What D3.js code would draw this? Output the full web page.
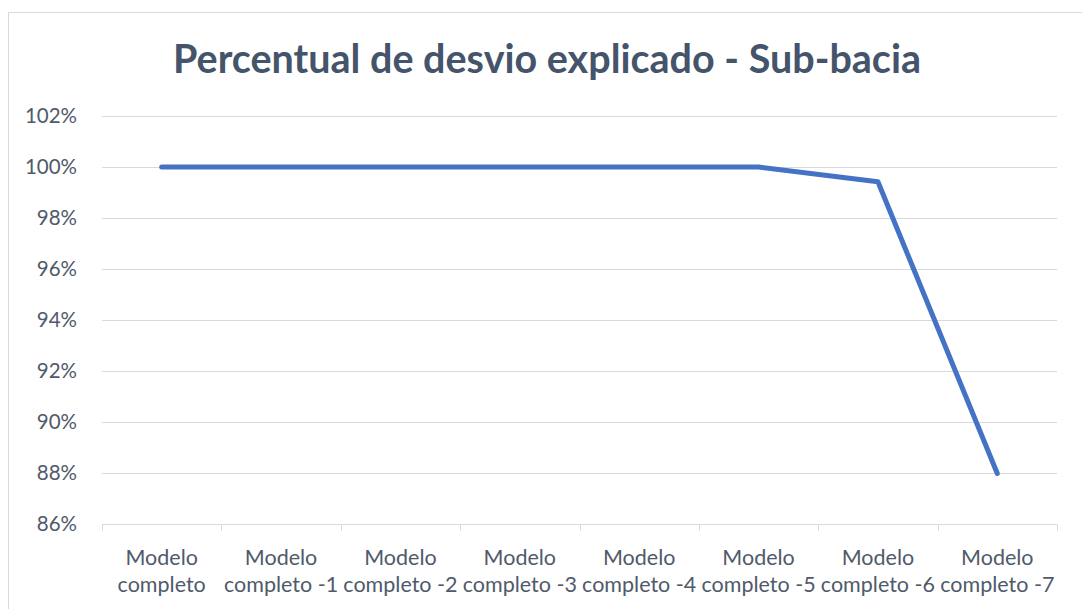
<html>
<head>
<meta charset="utf-8">
<title>Percentual de desvio explicado</title>
<style>
  body { margin: 0; background: #fff; }
  .grid line { stroke: #d9d9d9; stroke-width: 1px; }
  text { font-family: Lato, "Open Sans", sans-serif; }
</style>
</head>
<body>
<svg id="viz" width="1082" height="609"></svg>
<script src="https://d3js.org/d3.v7.min.js"></script>
<script>

// data
var categories = ["Modelo completo", "Modelo completo -1", "Modelo completo -2", "Modelo completo -3",
                  "Modelo completo -4", "Modelo completo -5", "Modelo completo -6", "Modelo completo -7"];
var values = [100, 100, 100, 100, 100, 100, 99.42, 87.98];
var yTicks = [86, 88, 90, 92, 94, 96, 98, 100, 102];
var chartTitle = "Percentual de desvio explicado - Sub-bacia";

var svg = d3.select("#viz");
var margin = {left: 102, right: 25, top: 116, bottom: 85};
var width = 1082, height = 609;

// chart border
svg.append("rect")
    .attr("x", 8.5).attr("y", 12.5)
    .attr("width", 1090).attr("height", 620)
    .attr("fill", "none")
    .attr("stroke", "#d9d9d9");

var x = d3.scaleBand().domain(categories).range([margin.left, width - margin.right]).padding(0);
var y = d3.scaleLinear().domain([86, 102]).range([height - margin.bottom, margin.top]);

// gridlines
svg.append("g").attr("class", "grid")
    .selectAll("line")
    .data(yTicks)
    .enter().append("line")
    .attr("x1", margin.left).attr("x2", width - margin.right)
    .attr("y1", function(d) { return Math.round(y(d)) + 0.5; })
    .attr("y2", function(d) { return Math.round(y(d)) + 0.5; });

// y labels
var yAxis = d3.axisLeft(y).tickValues(yTicks).tickSize(0).tickPadding(25)
    .tickFormat(function(d) { return d + "%"; });
svg.append("g")
    .attr("transform", "translate(" + margin.left + ",0)")
    .call(yAxis)
    .call(function(g) { g.select(".domain").remove(); })
    .selectAll("text")
    .attr("fill", "#505a6a")
    .style("font-size", "20.5px")
    .style("font-family", "Lato, 'Open Sans', sans-serif");

// bottom axis with category boundary ticks
var bottomY = Math.round(y(86)) + 0.5;
svg.append("line")
    .attr("x1", margin.left).attr("x2", width - margin.right)
    .attr("y1", bottomY).attr("y2", bottomY)
    .attr("stroke", "#d9d9d9");
var bounds = categories.map(function(c) { return x(c); }).concat([width - margin.right]);
svg.append("g").selectAll("line")
    .data(bounds)
    .enter().append("line")
    .attr("x1", function(d) { return Math.round(d) + 0.5; })
    .attr("x2", function(d) { return Math.round(d) + 0.5; })
    .attr("y1", bottomY).attr("y2", bottomY + 6)
    .attr("stroke", "#d9d9d9");

// x labels (two lines)
var xl = svg.append("g").selectAll("text")
    .data(categories)
    .enter().append("text")
    .attr("text-anchor", "middle")
    .attr("fill", "#505a6a")
    .style("font-size", "21.5px")
    .attr("transform", function(d) { return "translate(" + (x(d) + x.bandwidth() / 2) + ",0)"; });
xl.append("tspan").attr("x", 0).attr("y", 565)
    .text(function(d) { return d.split(" ")[0]; });
xl.append("tspan").attr("x", 0).attr("y", 592)
    .text(function(d) { return d.split(" ").slice(1).join(" "); });

// line
var line = d3.line()
    .x(function(d, i) { return x(categories[i]) + x.bandwidth() / 2; })
    .y(function(d) { return y(d); });
svg.append("path")
    .datum(values)
    .attr("d", line)
    .attr("fill", "none")
    .attr("stroke", "#4472c4")
    .attr("stroke-width", 5)
    .attr("stroke-linejoin", "round")
    .attr("stroke-linecap", "round");

// title
var title = svg.append("text")
    .attr("x", 547).attr("y", 73)
    .attr("text-anchor", "middle")
    .attr("fill", "#44546a")
    .style("font-size", "32px")
    .style("font-weight", "bold")
    .text(chartTitle);
// fit title width to the reference (about 748px)
var tw = title.node().getComputedTextLength();
title.style("font-size", (32 * 748 / tw) + "px");

</script>
</body>
</html>
